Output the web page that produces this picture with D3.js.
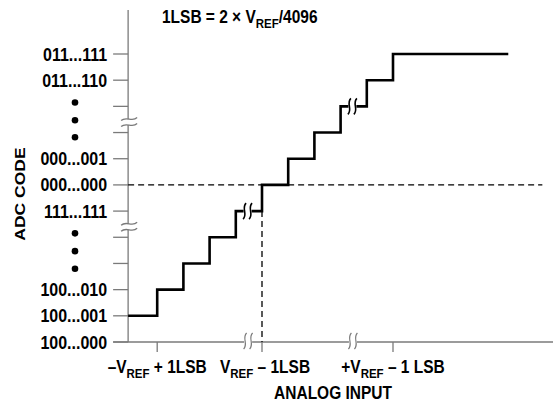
<!DOCTYPE html>
<html><head><meta charset="utf-8">
<script src="https://cdn.jsdelivr.net/npm/d3@7"></script>
<style>
body{margin:0;background:#fff}
text{font-family:"Liberation Sans",Arial,Helvetica,sans-serif;font-weight:bold;fill:#000}
</style>
</head><body><svg id="c" width="553" height="403"></svg>
<script>
// ---- data ----
const codeLabels = ["100...000","100...001","100...010","","","111...111","000...000","000...001","","","011...110","011...111"];
const codeTicks = [0,1,2,3,4,5,6,7,8,9,10,11];
const dotCodes = [2.8,3.47,4.15,7.82,8.47,9.15];
const axisBreakCodes = [4.4,8.4];
const stepEdges = [-0.11,1,2,3,4,5,6,7,8,9,10,14.4];
const stepCodes = [1,2,3,4,5,6,7,8,9,10,11];
const lineBreaks = [{x:4.45,code:5},{x:8.45,code:9}];
const xAxisBreaks = [4.47,8.47];
const xTicks = [1,5,10];
const xTickLabels = [["–V","REF"," + 1LSB"],["V","REF"," – 1LSB"],["+V","REF"," – 1 LSB"]];
const xTickLabelShift = [0,3,0];
const zeroCode = 6, midX = 5;
const xMin = -0.11, xMax = 16.2, dashEnd = 15.7, yTop = 12.68;
const titleParts = ["1LSB = 2 × V","REF","/4096"];

// ---- scales ----
const svg = d3.select("#c");
const x = d3.scaleLinear().domain([0,10]).range([131,393]);
const y = d3.scaleLinear().domain([0,11]).range([342,54]);
const axisColor = "#7a7a7a";
const tickLen = 15;
const ax = x(xMin), ay = y(0);
const SY = 1.13; // vertical stretch of glyphs in the reference

function txt(px, py, size, anchor){
  return svg.append("text").attr("transform",`translate(${px},${py}) scale(1,${SY})`)
    .attr("text-anchor",anchor||"start").attr("font-size",size);
}

// y axis
svg.append("line").attr("x1",ax).attr("x2",ax).attr("y1",y(yTop)).attr("y2",ay)
  .attr("stroke",axisColor).attr("stroke-width",1.3);
// x axis
svg.append("line").attr("x1",ax-tickLen).attr("x2",x(xMax)).attr("y1",ay).attr("y2",ay)
  .attr("stroke",axisColor).attr("stroke-width",1.3);

// y ticks
svg.selectAll(".yt").data(codeTicks).join("line")
  .attr("x1",ax-tickLen).attr("x2",ax).attr("y1",d=>y(d)).attr("y2",d=>y(d))
  .attr("stroke",axisColor).attr("stroke-width",1.3);
codeTicks.filter(d=>codeLabels[d]).forEach(d=>{
  txt(ax-tickLen-6, y(d), 16, "end").attr("dy","0.36em").text(codeLabels[d]);
});
// dots
svg.selectAll(".dot").data(dotCodes).join("circle")
  .attr("cx",75).attr("cy",d=>y(d)).attr("r",3.3).attr("fill","#000");

// x ticks
svg.selectAll(".xt").data(xTicks).join("line")
  .attr("x1",d=>x(d)).attr("x2",d=>x(d)).attr("y1",ay).attr("y2",ay+10)
  .attr("stroke",axisColor).attr("stroke-width",1.3);
xTicks.forEach((d,i)=>{
  const t = txt(x(d)+xTickLabelShift[i], 373, 15.5, "middle");
  const p = xTickLabels[i];
  t.append("tspan").text(p[0]);
  t.append("tspan").attr("font-size",11.5).attr("dy",4).text(p[1]);
  t.append("tspan").attr("dy",-4).text(p[2]);
});

// dashed reference lines
svg.append("line").attr("x1",ax).attr("x2",x(dashEnd)).attr("y1",y(zeroCode)).attr("y2",y(zeroCode))
  .attr("stroke","#000").attr("stroke-width",1.3).attr("stroke-dasharray","6,4");
svg.append("line").attr("x1",x(midX)).attr("x2",x(midX)).attr("y1",y(zeroCode-1)).attr("y2",ay)
  .attr("stroke","#000").attr("stroke-width",1.3).attr("stroke-dasharray","6,4");

// staircase
const pts = stepCodes.map((c,i)=>[stepEdges[i],c]);
pts.push([stepEdges[stepEdges.length-1], stepCodes[stepCodes.length-1]]);
svg.append("path").datum(pts)
  .attr("d",d3.line().x(d=>x(d[0])).y(d=>y(d[1])).curve(d3.curveStepAfter))
  .attr("fill","none").attr("stroke","#000").attr("stroke-width",2.6);

// break symbols
function vWave(g, cx, cy, color, sw){
  g.append("rect").attr("x",cx-4).attr("y",cy-3).attr("width",8).attr("height",6).attr("fill","#fff");
  [-3,3].forEach(o=>{
    const X = cx+o;
    g.append("path").attr("d",`M${X+1.5},${cy-8} C${X-3.5},${cy-3} ${X+3.5},${cy+3} ${X-1.5},${cy+8}`)
      .attr("fill","none").attr("stroke",color).attr("stroke-width",sw);
  });
}
function hWave(g, cx, cy, color, sw){
  g.append("rect").attr("x",cx-3).attr("y",cy-3).attr("width",6).attr("height",6).attr("fill","#fff");
  [-3,3].forEach(o=>{
    const Y = cy+o;
    g.append("path").attr("d",`M${cx-8},${Y+1.5} C${cx-3},${Y-3.5} ${cx+3},${Y+3.5} ${cx+8},${Y-1.5}`)
      .attr("fill","none").attr("stroke",color).attr("stroke-width",sw);
  });
}
axisBreakCodes.forEach(c=>hWave(svg, ax+1, y(c), axisColor, 1.3));
lineBreaks.forEach(b=>vWave(svg, x(b.x), y(b.code), "#000", 1.6));
xAxisBreaks.forEach(b=>vWave(svg, x(b), ay-1, axisColor, 1.2));

// titles
const tt = txt(162, 23, 15.5, "start");
tt.append("tspan").text(titleParts[0]);
tt.append("tspan").attr("font-size",11.5).attr("dy",4).text(titleParts[1]);
tt.append("tspan").attr("dy",-4).text(titleParts[2]);
txt(333, 399, 15.5, "middle").text("ANALOG INPUT");
svg.append("text").attr("transform",`translate(25,194) scale(1,${SY}) rotate(-90)`).attr("text-anchor","middle")
  .attr("font-size",15.5).text("ADC CODE");
</script></body></html>
